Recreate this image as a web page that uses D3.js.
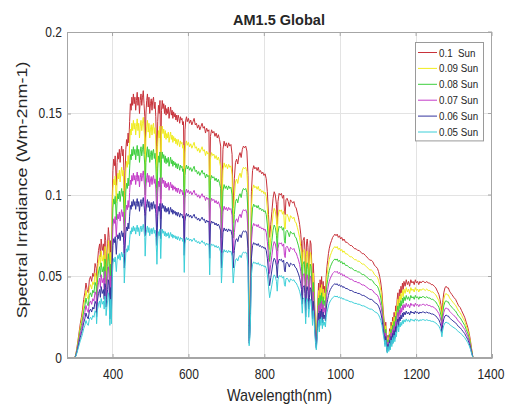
<!DOCTYPE html>
<html><head><meta charset="utf-8">
<script src="https://cdn.jsdelivr.net/npm/d3@7"></script>
<style>
html,body{margin:0;padding:0;background:#fff;}
svg{display:block;}
text{font-family:"Liberation Sans",Arial,sans-serif;fill:#262626;}
</style></head>
<body>
<svg id="chart" width="505" height="409"></svg>
<script>
// ---- data ----
const sunLevels = [0.1, 0.09, 0.08, 0.07, 0.06, 0.05];
const seriesLabels = ["0.1  Sun", "0.09 Sun", "0.08 Sun", "0.07 Sun", "0.06 Sun", "0.05 Sun"];
const seriesColors = ["#c8323a", "#f0ec1e", "#3ccf3c", "#c43cc8", "#34349e", "#3ccfd8"];
const xTicks = [400, 600, 800, 1000, 1200, 1400];
const yTicks = [0, 0.05, 0.1, 0.15, 0.2];
// AM1.5 Global spectrum at 1 Sun (W m-2 nm-1)
const wavelengths = [300,303,306,309,312,315,318,321,324,327,330,333,336,339,342,345,348,351,354,357,358,360,363,366,368,370,373,376,378,380,382,383,385,387,389,391,393,395,397,399,
401,403,405,407,410,412,414,416,418,420,422,424,426,428,430,431,433,435,437,439,441,443,445,447,449,451,453,455,457,459,461,463,465,467,469,471,473,475,477,479,481,483,485,486,488,490,492,494,496,498,
500,502,504,506,508,510,512,514,516,517,519,521,523,525,527,529,531,533,535,537,539,541,543,545,547,549,551,553,555,557,559,561,563,565,567,569,571,573,575,577,579,581,583,585,587,589,591,593,595,597,
600,603,606,609,612,615,618,621,624,627,630,633,636,639,642,645,648,651,654,656,658,661,664,667,670,673,676,679,682,685,687,689,691,694,697,
700,703,706,709,712,715,718,721,724,727,730,733,736,739,742,745,748,751,754,757,759,760,762,764,766,769,772,775,778,781,784,787,790,793,796,799,
802,805,808,811,814,817,820,823,826,829,832,834,836,839,842,845,848,851,853,855,857,860,863,866,869,872,875,878,881,884,887,890,893,896,898,
900,902,905,907,909,911,913,915,917,919,921,923,925,927,929,931,933,935,937,939,941,943,945,947,949,951,953,955,957,959,961,963,965,967,969,971,974,977,980,983,986,989,992,995,998,
1001,1004,1007,1010,1014,1018,1022,1026,1030,1034,1038,1042,1046,1050,1054,1058,1062,1066,1070,1074,1078,1082,1086,1090,1094,1098,
1101,1104,1107,1110,1113,1116,1118,1120,1122,1124,1126,1128,1130,1132,1134,1136,1138,1140,1142,1144,1146,1148,1150,1152,1154,1156,1158,1160,1162,1164,1166,1168,1171,1174,1177,1180,1183,1186,1189,1192,1195,1198,
1201,1204,1207,1210,1213,1216,1220,1224,1228,1232,1236,1240,1244,1248,1252,1256,1260,1263,1266,1268,1270,1273,1276,1279,1282,1285,1288,1291,1294,1297,
1300,1304,1308,1312,1316,1320,1324,1328,1332,1336,1340,1343,1346,1348,1350];
const irradiance1Sun = [0,0.02,0.06,0.11,0.16,0.21,0.25,0.30,0.36,0.40,0.46,0.42,0.40,0.48,0.50,0.47,0.52,0.50,0.58,0.55,0.42,0.58,0.66,0.70,0.62,0.73,0.66,0.70,0.60,0.76,0.72,0.52,0.62,0.70,0.80,0.74,0.40,0.72,0.42,0.95,
1.15,1.22,1.18,1.24,1.06,1.20,1.26,1.22,1.28,1.20,1.26,1.30,1.24,1.28,1.15,0.92,1.12,1.28,1.34,1.30,1.38,1.32,1.45,1.56,1.52,1.60,1.55,1.62,1.56,1.60,1.52,1.58,1.63,1.55,1.60,1.50,1.58,1.62,1.55,1.60,1.64,1.56,1.48,1.25,1.50,1.58,1.62,1.54,1.60,1.50,
1.56,1.59,1.52,1.58,1.60,1.53,1.57,1.48,1.30,1.15,1.45,1.55,1.50,1.58,1.22,1.52,1.58,1.53,1.56,1.50,1.55,1.49,1.53,1.50,1.54,1.47,1.51,1.54,1.49,1.52,1.47,1.51,1.48,1.50,1.46,1.49,1.45,1.49,1.47,1.44,1.48,1.46,1.47,1.43,1.45,1.05,1.40,1.46,1.48,1.45,
1.47,1.44,1.46,1.43,1.45,1.47,1.43,1.44,1.41,1.43,1.40,1.42,1.44,1.41,1.42,1.38,1.41,1.39,1.40,1.02,1.36,1.40,1.38,1.39,1.36,1.38,1.35,1.37,1.34,1.30,0.92,1.10,1.28,1.33,1.30,
1.32,1.29,1.32,1.30,1.31,1.25,0.92,1.10,1.20,1.22,1.19,1.24,1.26,1.23,1.28,1.30,1.29,1.30,1.27,1.12,0.40,0.15,0.25,0.55,1.02,1.15,1.18,1.16,1.17,1.15,1.17,1.14,1.15,1.13,1.14,1.12,
1.13,1.10,1.02,0.88,0.74,0.82,0.90,0.98,1.02,1.00,0.94,0.82,0.96,1.01,1.00,1.01,0.98,1.00,0.90,0.88,0.97,0.98,0.96,0.93,0.97,0.96,0.95,0.96,0.93,0.92,0.89,0.86,0.82,0.76,0.70,
0.55,0.72,0.74,0.66,0.42,0.70,0.73,0.68,0.50,0.62,0.72,0.70,0.58,0.40,0.58,0.48,0.30,0.18,0.10,0.22,0.35,0.46,0.32,0.48,0.40,0.50,0.36,0.47,0.40,0.44,0.38,0.50,0.56,0.60,0.64,0.67,0.70,0.72,0.74,0.75,0.76,0.75,0.76,0.74,0.75,
0.73,0.74,0.72,0.73,0.71,0.71,0.70,0.69,0.69,0.68,0.67,0.67,0.66,0.66,0.65,0.64,0.64,0.63,0.62,0.61,0.60,0.60,0.59,0.57,0.56,0.55,
0.53,0.50,0.46,0.40,0.30,0.22,0.14,0.22,0.12,0.06,0.14,0.08,0.18,0.10,0.22,0.14,0.25,0.18,0.28,0.20,0.32,0.26,0.36,0.40,0.32,0.42,0.38,0.44,0.40,0.46,0.42,0.47,0.44,0.48,0.45,0.47,0.44,0.48,0.46,0.47,0.45,0.48,
0.46,0.47,0.45,0.47,0.46,0.47,0.47,0.46,0.47,0.46,0.46,0.45,0.45,0.44,0.43,0.41,0.39,0.36,0.32,0.26,0.34,0.40,0.43,0.44,0.43,0.43,0.41,0.40,0.39,0.38,
0.37,0.36,0.34,0.32,0.31,0.29,0.27,0.25,0.22,0.19,0.15,0.11,0.06,0.03,0.0];

// ---- layout ----
const svg = d3.select("#chart");
const L = 67, R = 492, T = 32, B = 358;
const SX = 0.86; // horizontal squeeze of the reference's lettering
const x = d3.scaleLinear().domain([280, 1400]).range([L, R]);
const y = d3.scaleLinear().domain([0, 0.2]).range([B, T]);

// grid
const grid = svg.append("g");
grid.selectAll(".gx").data(xTicks.filter(d => d < 1400)).enter().append("line")
  .attr("x1", d => x(d)).attr("x2", d => x(d)).attr("y1", T).attr("y2", B)
  .attr("stroke", "#e3e3e3").attr("stroke-width", 1).attr("shape-rendering", "crispEdges");
grid.selectAll(".gy").data(yTicks.filter(d => d > 0 && d < 0.2)).enter().append("line")
  .attr("x1", L).attr("x2", R).attr("y1", d => y(d)).attr("y2", d => y(d))
  .attr("stroke", "#e3e3e3").attr("stroke-width", 1).attr("shape-rendering", "crispEdges");

// series
const line = d3.line().x(d => x(d[0])).y(d => y(d[1]));
sunLevels.forEach((s, i) => {
  const pts = wavelengths.map((w, k) => [w, irradiance1Sun[k] * s]);
  svg.append("path").datum(pts)
    .attr("d", line).attr("fill", "none")
    .attr("stroke", seriesColors[i]).attr("stroke-width", 1)
    .attr("stroke-linejoin", "round");
});

// axes (MATLAB style, inward ticks, box)
const axisColor = "#a6a6a6";
const ax = svg.append("g");
ax.append("rect").attr("x", L + 0.5).attr("y", T + 0.5).attr("width", R - L - 1).attr("height", B - T - 1)
  .attr("fill", "none").attr("stroke", axisColor).attr("stroke-width", 1);

const xAxis = d3.axisBottom(x).tickValues(xTicks).tickFormat(d3.format("d")).tickSizeInner(-4).tickSizeOuter(0).tickPadding(11);
const gx = ax.append("g").attr("transform", `translate(0,${B})`).call(xAxis);
const yAxis = d3.axisLeft(y).tickValues(yTicks).tickFormat(d3.format("~g")).tickSizeInner(-4).tickSizeOuter(0).tickPadding(5);
const gy = ax.append("g").attr("transform", `translate(${L},0)`).call(yAxis);
[gx, gy].forEach(g => {
  g.select(".domain").attr("stroke", axisColor);
  g.selectAll(".tick line").attr("stroke", axisColor);
  g.selectAll(".tick text").attr("font-size", 14).attr("fill", "#262626")
    .style("font-family", '"Liberation Sans",Arial,sans-serif');
});
gy.selectAll(".tick text").attr("x", -5 / SX).attr("transform", `scale(${SX},1)`);
gx.selectAll(".tick text").attr("transform", `scale(${SX},1)`)
  .attr("x", d => d === 1400 ? -1.5 / SX : 0);
// top / right ticks
ax.selectAll(".tt").data(xTicks).enter().append("line")
  .attr("x1", d => x(d)).attr("x2", d => x(d)).attr("y1", T).attr("y2", T + 4).attr("stroke", axisColor);
ax.selectAll(".tr").data(yTicks).enter().append("line")
  .attr("x1", R).attr("x2", R - 4).attr("y1", d => y(d)).attr("y2", d => y(d)).attr("stroke", axisColor);

// title & labels
svg.append("text").attr("x", 279).attr("y", 25).attr("text-anchor", "middle")
  .attr("font-size", 14.5).attr("font-weight", "bold").attr("fill", "#111").text("AM1.5 Global");
svg.append("text").attr("transform", `translate(${(L + R) / 2},401) scale(0.9,1)`).attr("text-anchor", "middle")
  .attr("font-size", 16).attr("fill", "#262626").text("Wavelength(nm)");
svg.append("text").attr("transform", `translate(27,190) scale(${SX},1) rotate(-90)`).attr("text-anchor", "middle")
  .attr("font-size", 18).attr("fill", "#262626").text("Spectral Irradiance (Wm-2nm-1)");

// legend
const lg = svg.append("g");
const lx = 415, ly = 42, lw = 68, rowH = 15.9;
lg.append("rect").attr("x", lx + 0.5).attr("y", ly + 0.5).attr("width", lw).attr("height", rowH * 6 + 3)
  .attr("fill", "#fff").attr("stroke", "#9a9a9a").attr("stroke-width", 1);
seriesLabels.forEach((lab, i) => {
  const cy = ly + 10.5 + i * rowH;
  lg.append("line").attr("x1", lx + 3).attr("x2", lx + 22).attr("y1", cy).attr("y2", cy)
    .attr("stroke", seriesColors[i]).attr("stroke-width", 1);
  lg.append("text").attr("transform", `translate(${lx + 24},${cy + 4}) scale(0.85,1)`).attr("font-size", 11.5)
    .attr("xml:space", "preserve").style("white-space", "pre").text(lab);
});
</script>
</body></html>
